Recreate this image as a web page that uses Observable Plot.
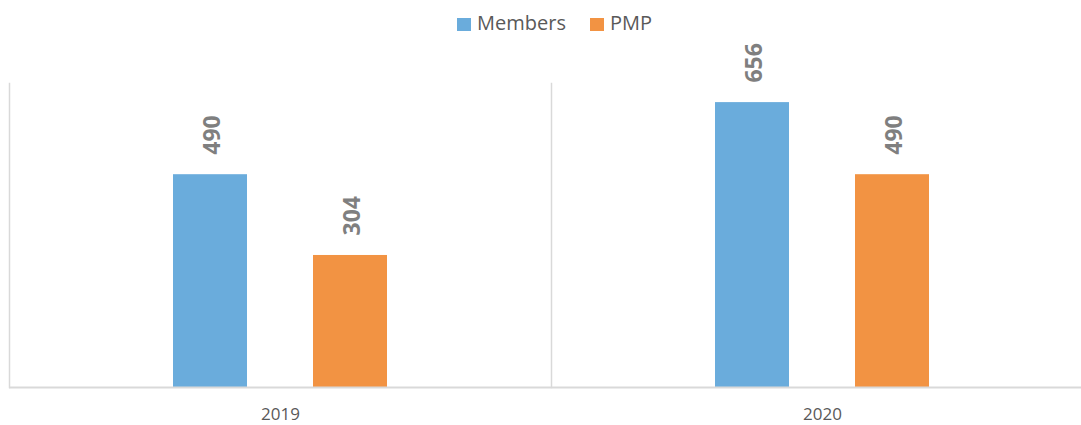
<!DOCTYPE html>
<html><head><meta charset="utf-8">
<script src="https://cdn.jsdelivr.net/npm/d3@7"></script>
<script src="https://cdn.jsdelivr.net/npm/@observablehq/plot@0.6"></script>
<style>
html,body{margin:0;padding:0;background:#fff;overflow:hidden;width:1081px;font-family:"Open Sans",sans-serif;}
#legend{position:relative;height:40px;width:1081px;}
.sw{position:absolute;top:18px;width:14px;height:13px;}
.lt{position:absolute;top:9px;font-size:20px;line-height:28px;color:#595959;}
#chart{width:1081px;height:385px;overflow:hidden;}
#chart svg{display:block;}
</style></head><body>
<div id="legend"></div><div id="chart"></div>
<script>
const years = ["2019", "2020"];
const seriesNames = ["Members", "PMP"];
const members = [490, 656];
const pmp = [304, 490];
const colors = ["#6aacdc", "#f29343"];

const data = years.flatMap((y, i) => [
  {year: y, series: seriesNames[0], value: members[i]},
  {year: y, series: seriesNames[1], value: pmp[i]}
]);

// legend
const legend = document.getElementById("legend");
const legendPos = [{sw: 457, tx: 477}, {sw: 590, tx: 610}];
seriesNames.forEach((s, i) => {
  const sw = document.createElement("div");
  sw.className = "sw"; sw.style.left = legendPos[i].sw + "px"; sw.style.background = colors[i];
  const t = document.createElement("div");
  t.className = "lt"; t.style.left = legendPos[i].tx + "px"; t.textContent = s;
  legend.appendChild(sw); legend.appendChild(t);
});

const plot = Plot.plot({
  width: 1093, height: 385,
  marginTop: 43, marginBottom: 38, marginLeft: 9, marginRight: 0,
  fx: {domain: years, padding: 0, label: null, axis: "bottom", tickSize: 0, tickPadding: 20},
  x: {domain: seriesNames, paddingInner: 0.4714, paddingOuter: 1.171, axis: null},
  y: {domain: [0, 700], axis: null},
  color: {domain: seriesNames, range: colors},
  style: {fontFamily: "Open Sans", fontSize: "17px", color: "#595959", background: "white", maxWidth: "none"},
  marks: [
    Plot.frame({anchor: "left", stroke: "#d9d9d9", strokeWidth: 1.5, strokeOpacity: 1}),
    Plot.barY(data, {fx: "year", x: "series", y: "value", fill: "series"}),
    Plot.ruleY([0], {stroke: "#d9d9d9", strokeWidth: 2}),
    Plot.text(data, {fx: "year", x: "series", y: "value", text: d => String(d.value),
      rotate: -90, textAnchor: "start", dy: -20, dx: 2, fill: "#7f7f7f", fontWeight: "bold", fontSize: 23})
  ]
});
document.getElementById("chart").appendChild(plot);
</script>
</body></html>
